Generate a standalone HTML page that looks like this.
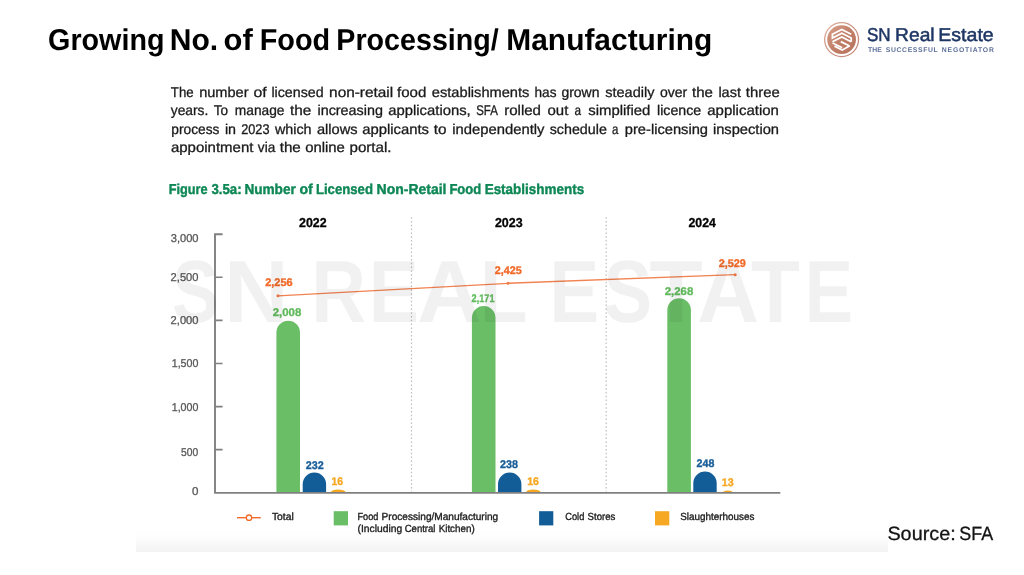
<!DOCTYPE html>
<html lang="en">
<head>
<meta charset="utf-8">
<title>Growing No. of Food Processing/ Manufacturing</title>
<style>
html,body{margin:0;padding:0;background:#fff;}
body{width:1024px;height:575px;position:relative;overflow:hidden;font-family:"Liberation Sans",sans-serif;}
.slide{position:absolute;left:0;top:0;width:1024px;height:575px;overflow:hidden;background:#fff;}
h1,h2,p{margin:0;padding:0;font-weight:inherit;}
.t{display:block;position:absolute;text-rendering:geometricPrecision;white-space:nowrap;transform-origin:0 0;margin:0;padding:0;}
.ln{display:block;position:absolute;white-space:nowrap;font-size:0;line-height:0;margin:0;padding:0;text-rendering:geometricPrecision;}
.w{display:inline-block;vertical-align:baseline;white-space:nowrap;transform-origin:0 0;}
.band{position:absolute;left:136px;top:529.5px;width:751.7px;height:22.4px;
  background:linear-gradient(to bottom,#fff 0%,#fdfdfd 30%,#f9f9f9 60%,#f3f3f3 100%);}
svg{position:absolute;left:0;top:0;}
</style>
</head>
<body>
<main class="slide">
  <div class="band"></div>

  <header>
<h1 class="ln" style="left:48px;top:22px;"><span class="w" id="hd_0" style="width:121px;font-size:30.2px;line-height:37px;color:#000;font-weight:700;transform:translateX(0.07px) scaleX(0.9506);">Growing</span> <span class="w" id="hd_1" style="width:54px;font-size:30.2px;line-height:37px;color:#000;font-weight:700;transform:translateX(0.69px) scaleX(0.9956);">No.</span> <span class="w" id="hd_2" style="width:36px;font-size:30.2px;line-height:37px;color:#000;font-weight:700;transform:translateX(0.62px) scaleX(1.0243);">of</span> <span class="w" id="hd_3" style="width:77px;font-size:30.2px;line-height:37px;color:#000;font-weight:700;transform:translateX(0.69px) scaleX(0.9554);">Food</span> <span class="w" id="hd_4" style="width:170px;font-size:30.2px;line-height:37px;color:#000;font-weight:700;transform:translateX(0.28px) scaleX(0.9496);">Processing/</span> <span class="w" id="hd_5" style="font-size:30.2px;line-height:37px;color:#000;font-weight:700;transform:translateX(0.31px) scaleX(0.9909);">Manufacturing</span></h1>
  </header>

  <section class="logo">
    <svg width="1024" height="575" viewBox="0 0 1024 575" aria-hidden="true">
      <defs>
        <linearGradient id="cu" x1="0" y1="0" x2="1" y2="1">
          <stop offset="0" stop-color="#d9a08c"/>
          <stop offset="0.5" stop-color="#c07f68"/>
          <stop offset="1" stop-color="#b9735d"/>
        </linearGradient>
      </defs>
      <circle cx="841.6" cy="39.6" r="16.95" fill="none" stroke="url(#cu)" stroke-width="1.3" opacity="0.85"/>
      <circle cx="841.6" cy="39.6" r="14.4" fill="url(#cu)"/>
      <g fill="none" stroke="#fff" stroke-width="1.75" stroke-linejoin="miter" stroke-linecap="butt">
        <path d="M851.2 34.3 L841.8 29.4 L832.4 34.3 L832.4 38 L841.8 33.2 L851.2 38 L851.2 41.7"/>
        <path d="M832.4 41.7 L841.8 37 L851.2 41.7"/>
        <path d="M832.6 43 L842.2 47.8"/>
        <path d="M834.5 46.1 L842.2 50 L849.9 45.8"/>
        <path d="M840.8 41.6 L849.1 45.7"/>
      </g>
    </svg>
<div class="ln" style="left:866px;top:23px;"><span class="w" id="lg_n0" style="width:29px;font-size:18.6px;line-height:23px;color:#1e3664;transform:translateX(0.93px) scaleX(0.9179);-webkit-text-stroke:0.5px #1e3664;">SN</span> <span class="w" id="lg_n1" style="width:43px;font-size:18.6px;line-height:23px;color:#1e3664;transform:translateX(0.06px) scaleX(1.034);-webkit-text-stroke:0.5px #1e3664;">Real</span> <span class="w" id="lg_n2" style="font-size:18.6px;line-height:23px;color:#1e3664;transform:translateX(0.31px) scaleX(1.0511);-webkit-text-stroke:0.5px #1e3664;">Estate</span></div>
<div class="ln" style="left:868px;top:46px;"><span class="w" id="lg_t0" style="width:17px;font-size:6.8px;line-height:9px;color:#5d7099;font-weight:700;letter-spacing:0.075px;transform:translateX(0.1px);">THE</span> <span class="w" id="lg_t1" style="width:56px;font-size:6.8px;line-height:9px;color:#5d7099;font-weight:700;letter-spacing:0.644px;transform:translateX(0.83px);">SUCCESSFUL</span> <span class="w" id="lg_t2" style="font-size:6.8px;line-height:9px;color:#5d7099;font-weight:700;letter-spacing:0.812px;transform:translateX(0.81px);">NEGOTIATOR</span></div>
  </section>

  <section class="para">
<p class="ln" style="left:170px;top:84px;"><span class="w" id="pp_00" style="width:29px;font-size:14.1px;line-height:17px;color:#1a1a1a;transform:translateX(0.84px) scaleX(0.9379);-webkit-text-stroke:0.3px #1a1a1a;">The</span> <span class="w" id="pp_01" style="width:54px;font-size:14.1px;line-height:17px;color:#1a1a1a;transform:translateX(0.15px) scaleX(1.0341);-webkit-text-stroke:0.3px #1a1a1a;">number</span> <span class="w" id="pp_02" style="width:18px;font-size:14.1px;line-height:17px;color:#1a1a1a;transform:translateX(0.55px) scaleX(1.1227);-webkit-text-stroke:0.3px #1a1a1a;">of</span> <span class="w" id="pp_03" style="width:58px;font-size:14.1px;line-height:17px;color:#1a1a1a;transform:translateX(0.42px) scaleX(1.0091);-webkit-text-stroke:0.3px #1a1a1a;">licensed</span> <span class="w" id="pp_04" style="width:68px;font-size:14.1px;line-height:17px;color:#1a1a1a;transform:translateX(0.09px) scaleX(1.0911);-webkit-text-stroke:0.3px #1a1a1a;">non-retail</span> <span class="w" id="pp_05" style="width:34px;font-size:14.1px;line-height:17px;color:#1a1a1a;transform:translateX(0.06px) scaleX(1.0671);-webkit-text-stroke:0.3px #1a1a1a;">food</span> <span class="w" id="pp_06" style="width:103px;font-size:14.1px;line-height:17px;color:#1a1a1a;transform:translateX(0.87px) scaleX(1.0371);-webkit-text-stroke:0.3px #1a1a1a;">establishments</span> <span class="w" id="pp_07" style="width:27px;font-size:14.1px;line-height:17px;color:#1a1a1a;transform:translateX(0.55px) scaleX(0.9658);-webkit-text-stroke:0.3px #1a1a1a;">has</span> <span class="w" id="pp_08" style="width:44px;font-size:14.1px;line-height:17px;color:#1a1a1a;transform:translateX(0.39px) scaleX(0.9917);-webkit-text-stroke:0.3px #1a1a1a;">grown</span> <span class="w" id="pp_09" style="width:54px;font-size:14.1px;line-height:17px;color:#1a1a1a;transform:translateX(0.24px) scaleX(1.029);-webkit-text-stroke:0.3px #1a1a1a;">steadily</span> <span class="w" id="pp_10" style="width:33px;font-size:14.1px;line-height:17px;color:#1a1a1a;transform:translateX(0.91px) scaleX(0.9947);-webkit-text-stroke:0.3px #1a1a1a;">over</span> <span class="w" id="pp_11" style="width:26px;font-size:14.1px;line-height:17px;color:#1a1a1a;transform:translateX(0.01px) scaleX(1.0673);-webkit-text-stroke:0.3px #1a1a1a;">the</span> <span class="w" id="pp_12" style="width:27px;font-size:14.1px;line-height:17px;color:#1a1a1a;transform:translateX(0.41px) scaleX(1.0261);-webkit-text-stroke:0.3px #1a1a1a;">last</span> <span class="w" id="pp_13" style="font-size:14.1px;line-height:17px;color:#1a1a1a;transform:translateX(0.78px) scaleX(1.0554);-webkit-text-stroke:0.3px #1a1a1a;">three</span></p>
<p class="ln" style="left:170px;top:102px;"><span class="w" id="pp_14" style="width:43px;font-size:14.1px;line-height:17px;color:#1a1a1a;transform:translateX(0.77px) scaleX(0.9792);-webkit-text-stroke:0.3px #1a1a1a;">years.</span> <span class="w" id="pp_15" style="width:21px;font-size:14.1px;line-height:17px;color:#1a1a1a;transform:translateX(0.83px) scaleX(0.9614);-webkit-text-stroke:0.3px #1a1a1a;">To</span> <span class="w" id="pp_16" style="width:56px;font-size:14.1px;line-height:17px;color:#1a1a1a;transform:translateX(0.84px) scaleX(0.975);-webkit-text-stroke:0.3px #1a1a1a;">manage</span> <span class="w" id="pp_17" style="width:27px;font-size:14.1px;line-height:17px;color:#1a1a1a;transform:scaleX(1.0865);-webkit-text-stroke:0.3px #1a1a1a;">the</span> <span class="w" id="pp_18" style="width:71px;font-size:14.1px;line-height:17px;color:#1a1a1a;transform:translateX(0.49px) scaleX(1.0182);-webkit-text-stroke:0.3px #1a1a1a;">increasing</span> <span class="w" id="pp_19" style="width:88px;font-size:14.1px;line-height:17px;color:#1a1a1a;transform:translateX(0.27px) scaleX(1.0525);-webkit-text-stroke:0.3px #1a1a1a;">applications,</span> <span class="w" id="pp_20" style="width:28px;font-size:14.1px;line-height:17px;color:#1a1a1a;transform:translateX(0.2px) scaleX(0.8102);-webkit-text-stroke:0.3px #1a1a1a;">SFA</span> <span class="w" id="pp_21" style="width:43px;font-size:14.1px;line-height:17px;color:#1a1a1a;transform:translateX(0.13px) scaleX(1.0696);-webkit-text-stroke:0.3px #1a1a1a;">rolled</span> <span class="w" id="pp_22" style="width:27px;font-size:14.1px;line-height:17px;color:#1a1a1a;transform:translateX(0.49px) scaleX(1.0631);-webkit-text-stroke:0.3px #1a1a1a;">out</span> <span class="w" id="pp_23" style="width:14px;font-size:14.1px;line-height:17px;color:#1a1a1a;transform:translateX(0.58px) scaleX(0.8335);-webkit-text-stroke:0.3px #1a1a1a;">a</span> <span class="w" id="pp_24" style="width:69px;font-size:14.1px;line-height:17px;color:#1a1a1a;transform:translateX(0.21px) scaleX(1.0582);-webkit-text-stroke:0.3px #1a1a1a;">simplified</span> <span class="w" id="pp_25" style="width:50px;font-size:14.1px;line-height:17px;color:#1a1a1a;transform:translateX(0.06px) scaleX(1.007);-webkit-text-stroke:0.3px #1a1a1a;">licence</span> <span class="w" id="pp_26" style="font-size:14.1px;line-height:17px;color:#1a1a1a;transform:translateX(0.23px) scaleX(1.0634);-webkit-text-stroke:0.3px #1a1a1a;">application</span></p>
<p class="ln" style="left:171px;top:121px;"><span class="w" id="pp_27" style="width:53px;font-size:14.1px;line-height:17px;color:#1a1a1a;transform:translateX(0.3px) scaleX(0.9738);-webkit-text-stroke:0.3px #1a1a1a;">process</span> <span class="w" id="pp_28" style="width:17px;font-size:14.1px;line-height:17px;color:#1a1a1a;transform:translateX(0.91px) scaleX(1.0137);-webkit-text-stroke:0.3px #1a1a1a;">in</span> <span class="w" id="pp_29" style="width:33px;font-size:14.1px;line-height:17px;color:#1a1a1a;transform:translateX(0.15px) scaleX(0.9037);-webkit-text-stroke:0.3px #1a1a1a;">2023</span> <span class="w" id="pp_30" style="width:42px;font-size:14.1px;line-height:17px;color:#1a1a1a;transform:translateX(0.91px) scaleX(1.0166);-webkit-text-stroke:0.3px #1a1a1a;">which</span> <span class="w" id="pp_31" style="width:46px;font-size:14.1px;line-height:17px;color:#1a1a1a;transform:translateX(0.93px) scaleX(1.0382);-webkit-text-stroke:0.3px #1a1a1a;">allows</span> <span class="w" id="pp_32" style="width:71px;font-size:14.1px;line-height:17px;color:#1a1a1a;transform:translateX(0.24px) scaleX(1.0514);-webkit-text-stroke:0.3px #1a1a1a;">applicants</span> <span class="w" id="pp_33" style="width:19px;font-size:14.1px;line-height:17px;color:#1a1a1a;transform:translateX(0.76px) scaleX(1.0849);-webkit-text-stroke:0.3px #1a1a1a;">to</span> <span class="w" id="pp_34" style="width:97px;font-size:14.1px;line-height:17px;color:#1a1a1a;transform:translateX(0.27px) scaleX(1.0504);-webkit-text-stroke:0.3px #1a1a1a;">independently</span> <span class="w" id="pp_35" style="width:63px;font-size:14.1px;line-height:17px;color:#1a1a1a;transform:translateX(0.74px) scaleX(1.0118);-webkit-text-stroke:0.3px #1a1a1a;">schedule</span> <span class="w" id="pp_36" style="width:12px;font-size:14.1px;line-height:17px;color:#1a1a1a;transform:translateX(0.06px) scaleX(0.8099);-webkit-text-stroke:0.3px #1a1a1a;">a</span> <span class="w" id="pp_37" style="width:88px;font-size:14.1px;line-height:17px;color:#1a1a1a;transform:translateX(0.8px) scaleX(1.0406);-webkit-text-stroke:0.3px #1a1a1a;">pre-licensing</span> <span class="w" id="pp_38" style="font-size:14.1px;line-height:17px;color:#1a1a1a;transform:translateX(0.91px) scaleX(1.0416);-webkit-text-stroke:0.3px #1a1a1a;">inspection</span></p>
<p class="ln" style="left:170px;top:139px;"><span class="w" id="pp_39" style="width:87px;font-size:14.1px;line-height:17px;color:#1a1a1a;transform:translateX(0.91px) scaleX(1.0637);-webkit-text-stroke:0.3px #1a1a1a;">appointment</span> <span class="w" id="pp_40" style="width:22px;font-size:14.1px;line-height:17px;color:#1a1a1a;transform:translateX(0.83px) scaleX(0.9654);-webkit-text-stroke:0.3px #1a1a1a;">via</span> <span class="w" id="pp_41" style="width:26px;font-size:14.1px;line-height:17px;color:#1a1a1a;transform:translateX(0.71px) scaleX(1.0768);-webkit-text-stroke:0.3px #1a1a1a;">the</span> <span class="w" id="pp_42" style="width:44px;font-size:14.1px;line-height:17px;color:#1a1a1a;transform:translateX(0.13px) scaleX(1.0563);-webkit-text-stroke:0.3px #1a1a1a;">online</span> <span class="w" id="pp_43" style="font-size:14.1px;line-height:17px;color:#1a1a1a;transform:translateX(0.49px) scaleX(1.0737);-webkit-text-stroke:0.3px #1a1a1a;">portal.</span></p>
  </section>

  <section class="figure">
<h2 class="ln" style="left:168px;top:181px;"><span class="w" id="cp_0" style="width:43px;font-size:14.4px;line-height:18px;color:#0d8755;font-weight:700;transform:translateX(0.69px) scaleX(0.8858);-webkit-text-stroke:0.4px #0d8755;">Figure</span> <span class="w" id="cp_1" style="width:33px;font-size:14.4px;line-height:18px;color:#0d8755;font-weight:700;transform:translateX(0.41px) scaleX(0.9212);-webkit-text-stroke:0.4px #0d8755;">3.5a:</span> <span class="w" id="cp_2" style="width:55px;font-size:14.4px;line-height:18px;color:#0d8755;font-weight:700;transform:translateX(0.38px) scaleX(0.9449);-webkit-text-stroke:0.4px #0d8755;">Number</span> <span class="w" id="cp_3" style="width:16px;font-size:14.4px;line-height:18px;color:#0d8755;font-weight:700;transform:translateX(0.51px) scaleX(0.9778);-webkit-text-stroke:0.4px #0d8755;">of</span> <span class="w" id="cp_4" style="width:61px;font-size:14.4px;line-height:18px;color:#0d8755;font-weight:700;transform:translateX(0.91px) scaleX(0.9148);-webkit-text-stroke:0.4px #0d8755;">Licensed</span> <span class="w" id="cp_5" style="width:73px;font-size:14.4px;line-height:18px;color:#0d8755;font-weight:700;transform:translateX(0.61px) scaleX(0.9708);-webkit-text-stroke:0.4px #0d8755;">Non-Retail</span> <span class="w" id="cp_6" style="width:35px;font-size:14.4px;line-height:18px;color:#0d8755;font-weight:700;transform:translateX(0.41px) scaleX(0.9053);-webkit-text-stroke:0.4px #0d8755;">Food</span> <span class="w" id="cp_7" style="font-size:14.4px;line-height:18px;color:#0d8755;font-weight:700;transform:translateX(0.65px) scaleX(0.9351);-webkit-text-stroke:0.4px #0d8755;">Establishments</span></h2>
    <svg width="1024" height="575" viewBox="0 0 1024 575" aria-hidden="true">
      <!-- dashed separators -->
      <g stroke="#bcbcbc" stroke-width="1.2" stroke-dasharray="1.5 2.3" fill="none">
        <line x1="411.5" y1="217.2" x2="411.5" y2="491.5"/>
        <line x1="606.2" y1="217.2" x2="606.2" y2="491.5"/>
      </g>
      <!-- bars -->
      <g fill="#6abe66">
        <path d="M276.4 492.2 V332.5 a11.8 11.8 0 0 1 23.6 0 V492.2 Z"/>
        <path d="M471.9 492.2 V317.8 a11.8 11.8 0 0 1 23.6 0 V492.2 Z"/>
        <path d="M667.3 492.2 V310 a11.8 11.8 0 0 1 23.6 0 V492.2 Z"/>
      </g>
      <g fill="#125d98">
        <path d="M302.7 492.2 V484.3 a11.7 11.7 0 0 1 23.4 0 V492.2 Z"/>
        <path d="M498.0 492.2 V484.3 a11.7 11.7 0 0 1 23.4 0 V492.2 Z"/>
        <path d="M693.3 492.2 V483.3 a11.7 11.7 0 0 1 23.4 0 V492.2 Z"/>
      </g>
      <g fill="#f7a823">
        <path d="M331 492.2 a7.2 2.7 0 0 1 14.4 0 Z"/>
        <path d="M526.1 492.2 a7.2 2.7 0 0 1 14.4 0 Z"/>
        <path d="M723.2 492.2 a4.6 1.6 0 0 1 9.2 0 Z"/>
      </g>
      <!-- axes -->
      <g stroke="#808080" stroke-width="1.9" fill="none">
        <path d="M222.6 234.2 H215 V493.1"/>
        <path d="M214.1 492.8 H780.3" stroke-width="1.7"/>
        <path d="M215 277.3 H222.6 M215 320.4 H222.6 M215 363.5 H222.6 M215 406.6 H222.6 M215 449.6 H222.6" stroke-width="1.6"/>
      </g>
      <!-- total line -->
      <g stroke="#f28250" stroke-width="1.35" fill="none">
        <path d="M278 295.8 L508 283.3 L735.2 274.7"/>
      </g>
      <g fill="#f07a45">
        <circle cx="278" cy="295.8" r="1.5"/><circle cx="508" cy="283.3" r="1.5"/><circle cx="735.2" cy="274.7" r="1.5"/>
      </g>
      <!-- legend -->
      <line x1="237" y1="517.7" x2="260.8" y2="517.7" stroke="#f26b2b" stroke-width="1.4"/>
      <circle cx="249" cy="517.7" r="2.7" fill="#fff" stroke="#f26b2b" stroke-width="1.3"/>
      <rect x="333.7" y="511.2" width="14.3" height="14.2" fill="#6abe66"/>
      <rect x="539.1" y="511.2" width="14.2" height="14.2" fill="#125d98"/>
      <rect x="655.0" y="511.2" width="14.3" height="14.2" fill="#f7a823"/>
    </svg>
<div class="t" id="yr_0" style="left:298px;top:215px;font-size:12.9px;line-height:16px;color:#000;font-weight:700;transform:translateX(0.99px) scaleX(0.9609);-webkit-text-stroke:0.3px #000;">2022</div>
<div class="t" id="yr_1" style="left:494px;top:215px;font-size:12.9px;line-height:16px;color:#000;font-weight:700;transform:translateX(0.91px) scaleX(0.9668);-webkit-text-stroke:0.3px #000;">2023</div>
<div class="t" id="yr_2" style="left:688px;top:215px;font-size:12.9px;line-height:16px;color:#000;font-weight:700;transform:translateX(0.44px) scaleX(0.9554);-webkit-text-stroke:0.3px #000;">2024</div>
<div class="t" id="ya_0" style="left:170px;top:232px;font-size:11.4px;line-height:14px;color:#585858;transform:translateX(0.74px) scaleX(0.9734);-webkit-text-stroke:0.3px #585858;">3,000</div>
<div class="t" id="ya_1" style="left:170px;top:271px;font-size:11.4px;line-height:14px;color:#585858;transform:translateX(0.61px) scaleX(0.9772);-webkit-text-stroke:0.3px #585858;">2,500</div>
<div class="t" id="ya_2" style="left:170px;top:314px;font-size:11.4px;line-height:14px;color:#585858;transform:translateX(0.61px) scaleX(0.9772);-webkit-text-stroke:0.3px #585858;">2,000</div>
<div class="t" id="ya_3" style="left:171px;top:357px;font-size:11.4px;line-height:14px;color:#585858;transform:translateX(0.72px) scaleX(0.9352);-webkit-text-stroke:0.3px #585858;">1,500</div>
<div class="t" id="ya_4" style="left:171px;top:401px;font-size:11.4px;line-height:14px;color:#585858;transform:translateX(0.72px) scaleX(0.9352);-webkit-text-stroke:0.3px #585858;">1,000</div>
<div class="t" id="ya_5" style="left:180px;top:446px;font-size:11.4px;line-height:14px;color:#585858;transform:translateX(0.97px) scaleX(0.9023);-webkit-text-stroke:0.3px #585858;">500</div>
<div class="t" id="ya_6" style="left:192px;top:485px;font-size:11.4px;line-height:14px;color:#585858;transform:translateX(0.1px) scaleX(1.0148);-webkit-text-stroke:0.3px #585858;">0</div>
<div class="t" id="vl_t0" style="left:265px;top:276px;font-size:11.1px;line-height:14px;color:#f26b2b;font-weight:700;transform:translateX(0.22px) scaleX(0.9872);-webkit-text-stroke:0.35px #f26b2b;">2,256</div>
<div class="t" id="vl_t1" style="left:494px;top:264px;font-size:11.1px;line-height:14px;color:#f26b2b;font-weight:700;transform:translateX(0.78px) scaleX(0.9714);-webkit-text-stroke:0.35px #f26b2b;">2,425</div>
<div class="t" id="vl_t2" style="left:718px;top:257px;font-size:11.1px;line-height:14px;color:#f26b2b;font-weight:700;transform:translateX(0.75px) scaleX(0.9781);-webkit-text-stroke:0.35px #f26b2b;">2,529</div>
<div class="t" id="vl_g0" style="left:272px;top:306px;font-size:11.1px;line-height:14px;color:#62bb5e;font-weight:700;transform:translateX(0.73px) scaleX(1.0267);-webkit-text-stroke:0.35px #62bb5e;">2,008</div>
<div class="t" id="vl_g1" style="left:471px;top:292px;font-size:11.1px;line-height:14px;color:#62bb5e;font-weight:700;transform:translateX(0.61px) scaleX(0.8242);-webkit-text-stroke:0.35px #62bb5e;">2,171</div>
<div class="t" id="vl_g2" style="left:664px;top:285px;font-size:11.1px;line-height:14px;color:#62bb5e;font-weight:700;transform:translateX(0.71px) scaleX(1.0287);-webkit-text-stroke:0.35px #62bb5e;">2,268</div>
<div class="t" id="vl_b0" style="left:305px;top:459px;font-size:11.1px;line-height:14px;color:#1b5f99;font-weight:700;transform:translateX(0.79px) scaleX(0.9674);-webkit-text-stroke:0.35px #1b5f99;">232</div>
<div class="t" id="vl_b1" style="left:499px;top:458px;font-size:11.1px;line-height:14px;color:#1b5f99;font-weight:700;transform:translateX(0.95px) scaleX(0.9703);-webkit-text-stroke:0.35px #1b5f99;">238</div>
<div class="t" id="vl_b2" style="left:696px;top:457px;font-size:11.1px;line-height:14px;color:#1b5f99;font-weight:700;transform:translateX(0.57px) scaleX(0.9579);-webkit-text-stroke:0.35px #1b5f99;">248</div>
<div class="t" id="vl_y0" style="left:331px;top:475px;font-size:11.1px;line-height:14px;color:#f7a823;font-weight:700;transform:translateX(0.59px) scaleX(0.9353);-webkit-text-stroke:0.35px #f7a823;">16</div>
<div class="t" id="vl_y1" style="left:527px;top:475px;font-size:11.1px;line-height:14px;color:#f7a823;font-weight:700;transform:translateX(0.24px) scaleX(0.9519);-webkit-text-stroke:0.35px #f7a823;">16</div>
<div class="t" id="vl_y2" style="left:721px;top:476px;font-size:11.1px;line-height:14px;color:#f7a823;font-weight:700;transform:translateX(0.79px) scaleX(0.9587);-webkit-text-stroke:0.35px #f7a823;">13</div>
<div class="ln" style="left:271px;top:511px;"><span class="w" id="le_0" style="font-size:10.3px;line-height:13px;color:#1c1c1c;transform:translateX(0.91px) scaleX(1.0048);-webkit-text-stroke:0.35px #1c1c1c;">Total</span></div>
<div class="ln" style="left:357px;top:511px;"><span class="w" id="le_1" style="width:24px;font-size:10.3px;line-height:13px;color:#1c1c1c;transform:translateX(0.45px) scaleX(0.8894);-webkit-text-stroke:0.35px #1c1c1c;">Food</span> <span class="w" id="le_2" style="font-size:10.3px;line-height:13px;color:#1c1c1c;transform:translateX(0.62px) scaleX(0.9791);-webkit-text-stroke:0.35px #1c1c1c;">Processing/Manufacturing</span></div>
<div class="ln" style="left:357px;top:523px;"><span class="w" id="le_3" style="width:47px;font-size:10.3px;line-height:13px;color:#1c1c1c;transform:translateX(0.56px) scaleX(1.0012);-webkit-text-stroke:0.35px #1c1c1c;">(Including</span> <span class="w" id="le_4" style="width:34px;font-size:10.3px;line-height:13px;color:#1c1c1c;transform:translateX(0.67px) scaleX(0.9287);-webkit-text-stroke:0.35px #1c1c1c;">Central</span> <span class="w" id="le_5" style="font-size:10.3px;line-height:13px;color:#1c1c1c;transform:translateX(0.64px) scaleX(0.9554);-webkit-text-stroke:0.35px #1c1c1c;">Kitchen)</span></div>
<div class="ln" style="left:565px;top:511px;"><span class="w" id="le_6" style="width:22px;font-size:10.3px;line-height:13px;color:#1c1c1c;transform:translateX(0.27px) scaleX(0.9004);-webkit-text-stroke:0.35px #1c1c1c;">Cold</span> <span class="w" id="le_7" style="font-size:10.3px;line-height:13px;color:#1c1c1c;transform:translateX(0.54px) scaleX(0.9347);-webkit-text-stroke:0.35px #1c1c1c;">Stores</span></div>
<div class="ln" style="left:680px;top:511px;"><span class="w" id="le_8" style="font-size:10.3px;line-height:13px;color:#1c1c1c;transform:translateX(0.25px) scaleX(0.96);-webkit-text-stroke:0.35px #1c1c1c;">Slaughterhouses</span></div>
<div class="ln wm" style="left:171px;top:239px;"><span class="w" id="wm_00" style="width:53px;font-size:88.3px;line-height:106px;color:rgba(0,0,0,0.053);font-weight:700;transform:translateX(0.88px) scaleX(0.7961);">S</span><span class="w" id="wm_01" style="width:87px;font-size:88.3px;line-height:106px;color:rgba(0,0,0,0.053);font-weight:700;transform:translateX(0.09px) scaleX(1.0142);">N</span> <span class="w" id="wm_10" style="width:57px;font-size:88.3px;line-height:106px;color:rgba(0,0,0,0.053);font-weight:700;transform:translateX(0.23px) scaleX(0.8614);">R</span><span class="w" id="wm_11" style="width:49px;font-size:88.3px;line-height:106px;color:rgba(0,0,0,0.053);font-weight:700;transform:translateX(0.76px) scaleX(0.8525);">E</span><span class="w" id="wm_12" style="width:62px;font-size:88.3px;line-height:106px;color:rgba(0,0,0,0.053);font-weight:700;transform:translateX(0.01px) scaleX(1.0161);">A</span><span class="w" id="wm_13" style="width:70px;font-size:88.3px;line-height:106px;color:rgba(0,0,0,0.053);font-weight:700;transform:translateX(0.73px) scaleX(0.8873);">L</span> <span class="w" id="wm_20" style="width:54px;font-size:88.3px;line-height:106px;color:rgba(0,0,0,0.053);font-weight:700;transform:translateX(0.2px) scaleX(0.85);">E</span><span class="w" id="wm_21" style="width:46px;font-size:88.3px;line-height:106px;color:rgba(0,0,0,0.053);font-weight:700;transform:translateX(0.38px) scaleX(0.8254);">S</span><span class="w" id="wm_22" style="width:48px;font-size:88.3px;line-height:106px;color:rgba(0,0,0,0.053);font-weight:700;transform:translateX(0.15px) scaleX(0.9934);">T</span><span class="w" id="wm_23" style="width:54px;font-size:88.3px;line-height:106px;color:rgba(0,0,0,0.053);font-weight:700;transform:translateX(0.04px) scaleX(0.9755);">A</span><span class="w" id="wm_24" style="width:53px;font-size:88.3px;line-height:106px;color:rgba(0,0,0,0.053);font-weight:700;transform:translateX(0.08px) scaleX(0.9079);">T</span><span class="w" id="wm_25" style="font-size:88.3px;line-height:106px;color:rgba(0,0,0,0.053);font-weight:700;transform:translateX(0.56px) scaleX(0.8259);">E</span></div>
  </section>

  <footer>
<p class="ln" style="left:887px;top:523px;"><span class="w" id="sr_0" style="width:72px;font-size:19.2px;line-height:24px;color:#141414;transform:translateX(0.38px) scaleX(1.0342);-webkit-text-stroke:0.3px #141414;">Source:</span> <span class="w" id="sr_1" style="font-size:19.2px;line-height:24px;color:#141414;transform:translateX(0.32px) scaleX(0.9314);-webkit-text-stroke:0.3px #141414;">SFA</span></p>
  </footer>
</main>
</body>
</html>
